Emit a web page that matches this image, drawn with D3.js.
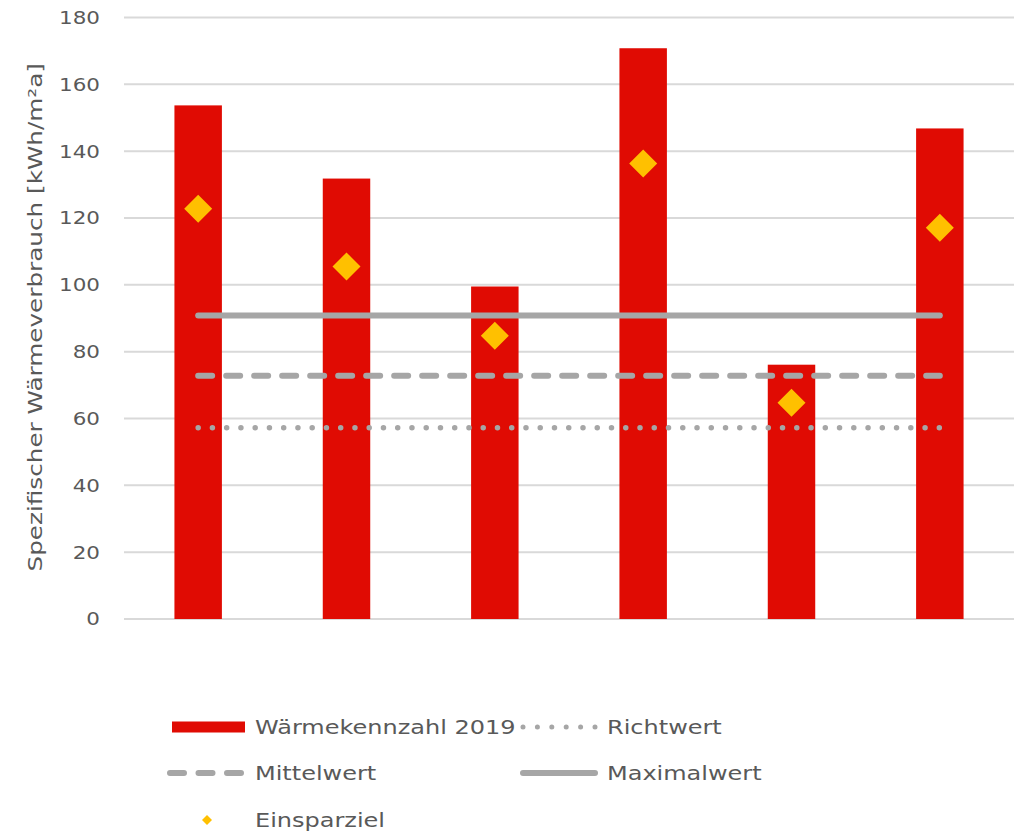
<!DOCTYPE html>
<html><head><meta charset="utf-8">
<script src="https://cdn.jsdelivr.net/npm/d3@7"></script>
<style>body{margin:0;background:#fff}text{font-family:"DejaVu Sans",Verdana,sans-serif}</style>
</head><body><svg id="c" width="1031" height="838"></svg>
<script>
const categories = ["1","2","3","4","5","6"];
const waermekennzahl = [153.7, 131.8, 99.5, 170.8, 76.1, 146.8];
const einsparziel = [122.8, 105.5, 84.8, 136.3, 64.7, 117.1];
const richtwert = [57.2, 57.2, 57.2, 57.2, 57.2, 57.2];
const mittelwert = [72.8, 72.8, 72.8, 72.8, 72.8, 72.8];
const maximalwert = [90.8, 90.8, 90.8, 90.8, 90.8, 90.8];
const yTicks = [0, 20, 40, 60, 80, 100, 120, 140, 160, 180];
const yTitle = "Spezifischer Wärmeverbrauch [kWh/m²a]";
const legendLabels = ["Wärmekennzahl 2019", "Richtwert", "Mittelwert", "Maximalwert", "Einsparziel"];

const svg = d3.select("#c");
const L = 124, R = 1014, T = 17.5, B = 619;
const x = d3.scaleBand().domain(categories).range([L, R]).paddingInner(0.68).paddingOuter(0.34);
const y = d3.scaleLinear().domain([0, 180]).range([B, T]);
const textCol = "#595959", grid = "#d9d9d9", red = "#e00b03", gold = "#ffc000", gray = "#a6a6a6";

// grid
svg.append("g").selectAll("line").data(yTicks).join("line")
  .attr("x1", L).attr("x2", R).attr("y1", d => y(d)).attr("y2", d => y(d))
  .attr("stroke", grid).attr("stroke-width", 2);

// y axis labels
const ay = svg.append("g").attr("transform", `translate(${L},0)`)
  .call(d3.axisLeft(y).tickValues(yTicks).tickSize(0).tickPadding(24));
ay.select(".domain").remove();
ay.selectAll("text").attr("fill", textCol).attr("x", 0).attr("transform", "translate(-24,0) scale(1.16,1)")
  .style("font-size", "18.5px").style("font-family", '"DejaVu Sans",Verdana,sans-serif');

svg.append("text").attr("transform", `translate(42,${(T + B) / 2 - 1}) rotate(-90) scale(1.3,1)`)
  .attr("text-anchor", "middle").attr("fill", textCol).style("font-size", "19px").text(yTitle);

// bars
svg.append("g").selectAll("rect").data(waermekennzahl).join("rect")
  .attr("x", (d, i) => x(categories[i])).attr("width", x.bandwidth())
  .attr("y", d => y(d)).attr("height", d => B - y(d)).attr("fill", red);

const cx = i => x(categories[i]) + x.bandwidth() / 2;
const line = d3.line().x((d, i) => cx(i)).y(d => y(d));
const span = cx(categories.length - 1) - cx(0);
const dotP = span / Math.round(span / 14.3) - 0.01;
svg.append("path").datum(maximalwert).attr("d", line).attr("fill", "none")
  .attr("stroke", gray).attr("stroke-width", 6).attr("stroke-linecap", "round");
svg.append("path").datum(mittelwert).attr("d", line).attr("fill", "none")
  .attr("stroke", gray).attr("stroke-width", 6).attr("stroke-linecap", "round").attr("stroke-dasharray", "14 14");
svg.append("path").datum(richtwert).attr("d", line).attr("fill", "none")
  .attr("stroke", gray).attr("stroke-width", 5.5).attr("stroke-linecap", "round").attr("stroke-dasharray", `0 ${dotP}`);

const diamond = (s) => `M0,${-s}L${s},0L0,${s}L${-s},0Z`;
svg.append("g").selectAll("path").data(einsparziel).join("path")
  .attr("transform", (d, i) => `translate(${cx(i)},${y(d)})`)
  .attr("d", diamond(14)).attr("fill", gold);

// legend
const lg = svg.append("g");
const rows = [727, 773, 820];
const c1 = 167, c2 = 520, sw = 78, tx = 88;
function ltext(xp, yp, i) {
  lg.append("text").attr("transform", `translate(${xp},${yp}) scale(1.2,1)`).attr("dy", "0.35em").attr("fill", textCol)
    .style("font-size", "20px").text(legendLabels[i]);
}
lg.append("rect").attr("x", 172).attr("y", rows[0] - 5.5).attr("width", 73).attr("height", 11).attr("fill", red);
ltext(c1 + tx, rows[0], 0);
lg.append("line").attr("x1", c2 + 3).attr("x2", c2 + sw - 3).attr("y1", rows[0]).attr("y2", rows[0])
  .attr("stroke", gray).attr("stroke-width", 5).attr("stroke-linecap", "round").attr("stroke-dasharray", "0 14.4");
ltext(c2 + tx - 1, rows[0], 1);
lg.append("line").attr("x1", c1 + 3).attr("x2", c1 + sw - 3).attr("y1", rows[1]).attr("y2", rows[1])
  .attr("stroke", gray).attr("stroke-width", 6).attr("stroke-linecap", "round").attr("stroke-dasharray", "14 14.5");
ltext(c1 + tx, rows[1], 2);
lg.append("line").attr("x1", c2 + 3).attr("x2", c2 + sw - 3).attr("y1", rows[1]).attr("y2", rows[1])
  .attr("stroke", gray).attr("stroke-width", 6).attr("stroke-linecap", "round");
ltext(c2 + tx - 1, rows[1], 3);
lg.append("path").attr("transform", `translate(207,${rows[2]})`).attr("d", diamond(5)).attr("fill", gold);
ltext(c1 + tx, rows[2], 4);
</script></body></html>
